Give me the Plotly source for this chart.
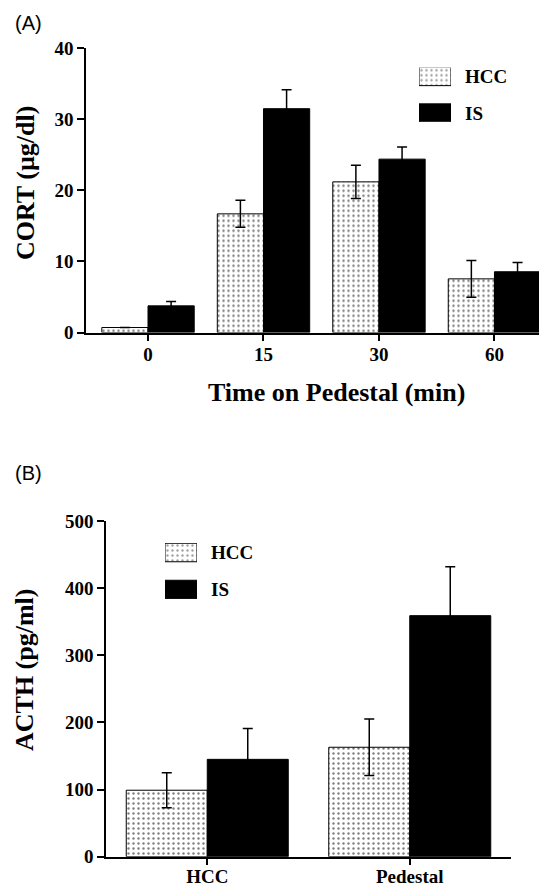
import plotly.graph_objects as go

# ---------------- data ----------------
series_names = ["HCC", "IS"]

cort_categories = ["0", "15", "30", "60"]
cort_hcc = [0.7, 16.7, 21.2, 7.55]
cort_hcc_err = [0.0, 1.9, 2.35, 2.6]
cort_is = [3.75, 31.5, 24.4, 8.55]
cort_is_err = [0.6, 2.65, 1.7, 1.3]

acth_categories = ["HCC", "Pedestal"]
acth_hcc = [99, 163]
acth_hcc_err = [26, 42]
acth_is = [145, 359]
acth_is_err = [46, 73]

cort_ticks = [0, 10, 20, 30, 40]
acth_ticks = [0, 100, 200, 300, 400, 500]

# ---------------- layout helpers ----------------
PAGE_W, PAGE_H = 547, 887
OFF = 8  # default page body margin
W, H = PAGE_W - OFF, PAGE_H - OFF
def px(x):
    return (x - OFF) / W
def py(y):
    return 1 - (y - OFF) / H

SERIF = "Liberation Serif"
tick_font = dict(family=SERIF, size=19, color="black", weight="bold")
title_font = dict(family=SERIF, size=26, color="black", weight="bold")
legend_font = dict(family=SERIF, size=19, color="black", weight="bold")

pattern_hcc = dict(shape=".", size=5, solidity=0.18, fgcolor="black", bgcolor="white", fillmode="overlay")
line = dict(color="black", width=1)
err_style = dict(type="data", color="black", thickness=1.5, width=5, visible=True)

fig = go.Figure()

# Panel A
fig.add_trace(go.Bar(x=list(range(len(cort_categories))), y=cort_hcc, name=series_names[0],
                     marker=dict(color="white", pattern=pattern_hcc, line=line),
                     error_y=dict(array=cort_hcc_err, **err_style),
                     xaxis="x", yaxis="y", showlegend=False))
fig.add_trace(go.Bar(x=list(range(len(cort_categories))), y=cort_is, name=series_names[1],
                     marker=dict(color="black", line=line),
                     error_y=dict(array=cort_is_err, **err_style),
                     xaxis="x", yaxis="y", showlegend=False))

# Panel B
fig.add_trace(go.Bar(x=list(range(len(acth_categories))), y=acth_hcc, name=series_names[0],
                     marker=dict(color="white", pattern=pattern_hcc, line=line),
                     error_y=dict(array=acth_hcc_err, **err_style),
                     xaxis="x2", yaxis="y2", showlegend=False))
fig.add_trace(go.Bar(x=list(range(len(acth_categories))), y=acth_is, name=series_names[1],
                     marker=dict(color="black", line=line),
                     error_y=dict(array=acth_is_err, **err_style),
                     xaxis="x2", yaxis="y2", showlegend=False))

# Legend swatches (drawn as bars on small hidden axes)
for xa, ya in (("x3", "y3"), ("x4", "y4")):
    fig.add_trace(go.Bar(orientation="h", y=[0, 1], x=[1, 1], base=0, width=0.5,
                         marker=dict(color=["white", "black"],
                                     pattern=dict(shape=[".", ""], size=5, solidity=0.18,
                                                  fgcolor="black", bgcolor="white", fillmode="overlay"),
                                     line=line),
                         xaxis=xa, yaxis=ya, showlegend=False, hoverinfo="skip"))

axis_common = dict(showline=True, linecolor="black", linewidth=1.5, ticks="outside",
                   ticklen=7, tickwidth=1.5, tickcolor="black", showgrid=False,
                   zeroline=False, tickfont=tick_font, fixedrange=True)

fig.update_layout(
    width=W, height=H,
    margin=dict(l=0, r=0, t=0, b=0),
    paper_bgcolor="white", plot_bgcolor="white",
    template="none",
    barmode="group", bargap=0.2, bargroupgap=0,
    showlegend=False,
    xaxis=dict(domain=[px(86), 1.0], range=[-0.537, 3.455], anchor="y",
               tickmode="array", tickvals=list(range(len(cort_categories))),
               ticktext=cort_categories, ticklabelstandoff=-3, **axis_common),
    yaxis=dict(domain=[py(332.5), py(48.3)], range=[0, 40], anchor="x",
               tickmode="array", tickvals=cort_ticks, **axis_common),
    xaxis2=dict(domain=[px(106), px(511)], range=[-0.5, 1.5], anchor="y2",
                tickmode="array", tickvals=list(range(len(acth_categories))),
                ticktext=acth_categories, ticklabelstandoff=-5, **axis_common),
    yaxis2=dict(domain=[py(856.7), py(521)], range=[0, 500], anchor="x2",
                tickmode="array", tickvals=acth_ticks, **axis_common),
    xaxis3=dict(domain=[px(419), px(451)], range=[0, 1], anchor="y3", visible=False, fixedrange=True),
    yaxis3=dict(domain=[py(121.75), py(67.75)], range=[1.24, -0.24], anchor="x3", visible=False, fixedrange=True),
    xaxis4=dict(domain=[px(165), px(197)], range=[0, 1], anchor="y4", visible=False, fixedrange=True),
    yaxis4=dict(domain=[py(599), py(543)], range=[1.257, -0.257], anchor="x4", visible=False, fixedrange=True),
)

ann = []
# panel labels
ann.append(dict(text="(A)", x=px(13), y=py(23), xanchor="left", yanchor="middle",
                font=dict(family="Liberation Sans", size=20, color="black")))
ann.append(dict(text="(B)", x=px(13), y=py(473), xanchor="left", yanchor="middle",
                font=dict(family="Liberation Sans", size=20, color="black")))
# axis titles
ann.append(dict(text="CORT (µg/dl)", x=px(25), y=py(183), textangle=-90,
                xanchor="center", yanchor="middle", font=title_font))
ann.append(dict(text="Time on Pedestal (min)", x=px(336), y=py(392),
                xanchor="center", yanchor="middle", font=title_font))
ann.append(dict(text="ACTH (pg/ml)", x=px(24), y=py(670), textangle=-90,
                xanchor="center", yanchor="middle", font=title_font))
# legend labels
ann.append(dict(text=series_names[0], x=px(463), y=py(76.5), xanchor="left", yanchor="middle", font=legend_font))
ann.append(dict(text=series_names[1], x=px(463), y=py(113), xanchor="left", yanchor="middle", font=legend_font))
ann.append(dict(text=series_names[0], x=px(209), y=py(552.5), xanchor="left", yanchor="middle", font=legend_font))
ann.append(dict(text=series_names[1], x=px(209), y=py(589.5), xanchor="left", yanchor="middle", font=legend_font))

for a in ann:
    a.update(xref="paper", yref="paper", showarrow=False)
fig.update_layout(annotations=ann)

fig.write_html("out.html")
